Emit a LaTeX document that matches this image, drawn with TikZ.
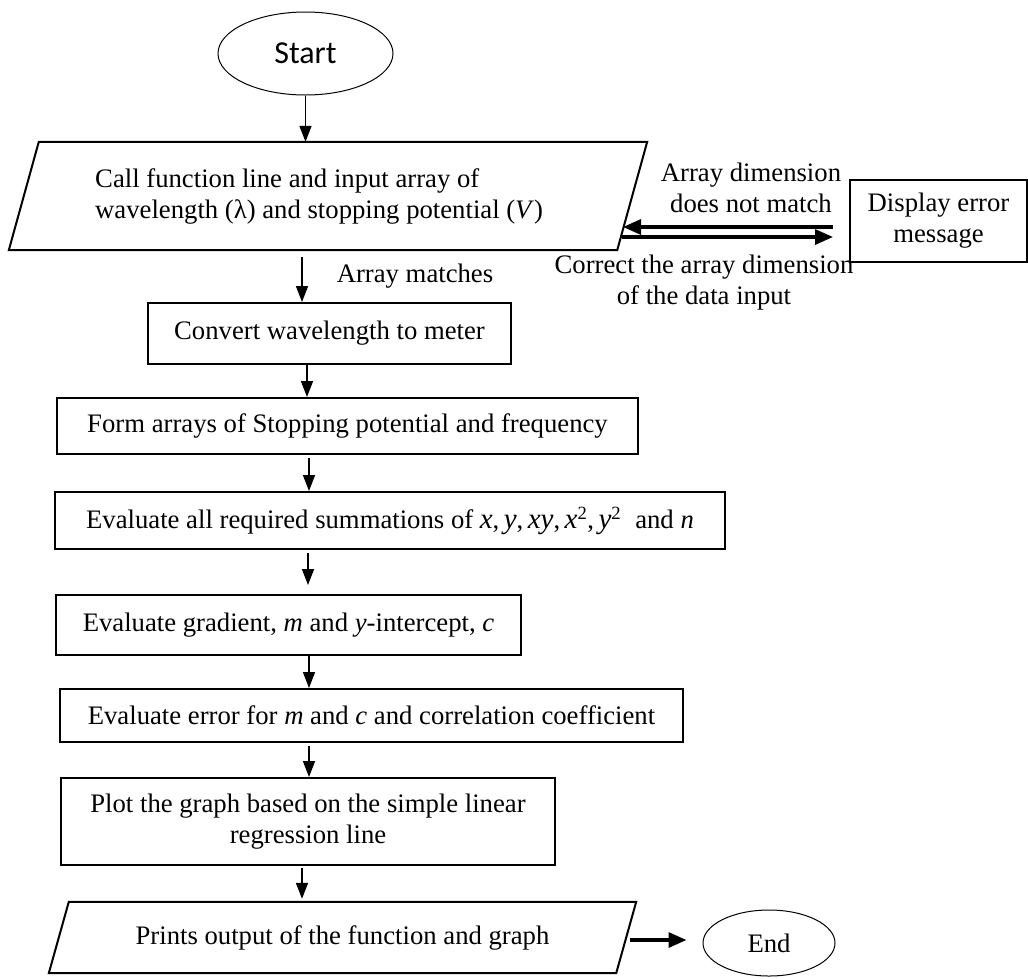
\documentclass[tikz,border=0pt]{standalone}
\usepackage{fontspec}
\setmainfont{Liberation Serif}
\newfontfamily\startfont{Carlito}
\usetikzlibrary{shapes.geometric,arrows.meta,calc}
\newcommand{\mv}[1]{{\fontsize{29pt}{31pt}\selectfont\itshape #1}}
\begin{document}
\begin{tikzpicture}[x=1pt,y=-1pt,
  every node/.style={font=\fontsize{26.7pt}{31pt}\selectfont, inner sep=0pt},
  box/.style={draw, line width=2pt, align=center},
  para/.style={line width=2pt},
  oval/.style={draw, ellipse, line width=1pt},
  arr/.style={line width=1.6pt, -{Triangle[length=16pt,width=12pt]}},
  tarr/.style={line width=3.2pt, -{Triangle[length=18pt,width=15pt]}},
  lbl/.style={align=center}]
\useasboundingbox (0,0) rectangle (1028,978);

% terminals
\node[oval, minimum width=175pt, minimum height=83pt, font=\startfont\fontsize{32pt}{36pt}\selectfont] (start) at (305.5,53.5) {Start};
\node[oval, minimum width=132pt, minimum height=66pt] (end) at (769,943) {End};

% input parallelogram
\node[minimum width=608pt, minimum height=108pt] (in) at (328,196) {};
\draw[para] ($(in.north west)+(15,0)$) -- ($(in.north east)+(15,0)$) -- ($(in.south east)+(-15,0)$) -- ($(in.south west)+(-15,0)$) -- cycle;
\node[anchor=west, align=left] (intext) at (95,196) {Call function line and input array of\\wavelength (λ) and stopping potential (\textit{V})};

% error box
\node[box, minimum width=177pt, minimum height=82pt] (err) at (938.5,221) {Display error\\message};

% process boxes
\node[box, minimum width=363pt, minimum height=61pt] (conv) at (329.5,333.5) {Convert wavelength to meter};
\node[box, minimum width=581pt, minimum height=56pt] (form) at (347.5,426) {Form arrays of Stopping potential and frequency};
\node[box, minimum width=670pt, minimum height=57pt] (sum) at (390,520.5) {Evaluate all required summations of \mv{x},\,\mv{y},\,\mv{xy},\,\mv{x}\textsuperscript{2},\,\mv{y}\textsuperscript{2}\hspace{14pt}and \textit{n}};
\node[box, minimum width=465pt, minimum height=60pt] (grad) at (288.5,625) {Evaluate gradient, \textit{m} and \textit{y}-intercept, \textit{c}};
\node[box, minimum width=623pt, minimum height=53pt] (errc) at (371.5,715.5) {Evaluate error for \textit{m} and \textit{c} and correlation coefficient};
\node[box, minimum width=494pt, minimum height=87pt] (plot) at (308,821.5) {Plot the graph based on the simple linear\\regression line};

% output parallelogram
\node[minimum width=567pt, minimum height=71pt] (out) at (342.5,937.5) {Prints output of the function and graph};
\draw[para] ($(out.north west)+(10,0)$) -- ($(out.north east)+(10,0)$) -- ($(out.south east)+(-10,0)$) -- ($(out.south west)+(-10,0)$) -- cycle;

% labels
\node[lbl] (l1) at (751,187.5) {Array dimension\\does not match};
\node[lbl] (l2) at (704,283) {Correct the array dimension\\of the data input};
\node[lbl] (l3) at (415,276) {Array matches};

% free ends on the slanted edge of the input shape
\coordinate (pL) at (623,227);
\coordinate (pR) at (622,237);

% connectors
\draw[arr] (start.south) -- (start.south |- in.north);
\draw[arr, shorten <=7pt] ([xshift=-26pt]in.south) -- ([xshift=-26pt]in.south |- conv.north);
\draw[arr] ([xshift=-22.5pt]conv.south) -- ([xshift=-22.5pt]conv.south |- form.north);
\draw[arr, shorten <=3pt] ([xshift=-38.5pt]form.south) -- ([xshift=-38.5pt]form.south |- sum.north);
\draw[arr, shorten <=3pt, shorten >=9pt] ([xshift=-82pt]sum.south) -- ([xshift=-82pt]sum.south |- grad.north);
\draw[arr] ([xshift=20.5pt]grad.south) -- ([xshift=20.5pt]grad.south |- errc.north);
\draw[arr, shorten <=3pt] ([xshift=-62.5pt]errc.south) -- ([xshift=-62.5pt]errc.south |- plot.north);
\draw[arr, shorten <=2pt, shorten >=3pt] ([xshift=-6pt]plot.south) -- ([xshift=-6pt]plot.south |- out.north);

\draw[tarr] ([xshift=-16pt,yshift=-6pt]err.west) -- (pL);
\draw[tarr] (pR) -- ([xshift=-16pt,yshift=-16pt]err.west);
\draw[tarr] ([xshift=4pt,yshift=-2.5pt]out.east) -- ([xshift=-16pt,yshift=3pt]end.west);
\end{tikzpicture}
\end{document}
